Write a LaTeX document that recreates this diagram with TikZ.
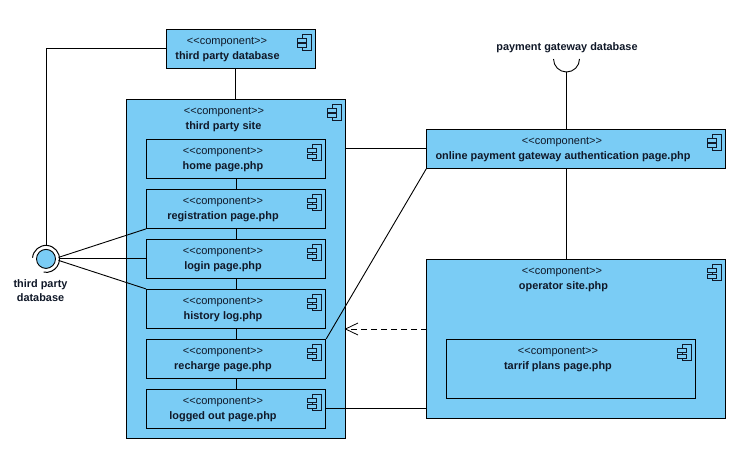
\documentclass[tikz,border=0pt]{standalone}
\usepackage{fontspec}
\setmainfont{Liberation Sans}
\definecolor{compfill}{HTML}{7ACCF5}
\definecolor{inkc}{HTML}{101828}
\tikzset{
 comp/.style={draw=black,fill=compfill,line width=1pt,inner sep=0pt,rectangle},
 ster/.style={font=\fontsize{11}{12}\selectfont,text=inkc,inner sep=0pt,anchor=center},
 cname/.style={font=\fontsize{10.9}{12}\bfseries\selectfont,text=inkc,inner sep=0pt,anchor=center},
 wire/.style={draw=black,line width=0.9pt},
 icon/.style={draw=inkc,line width=0.8pt,fill=compfill},
 freelab/.style={font=\fontsize{10.9}{14.5}\bfseries\selectfont,text=inkc,inner sep=0pt,align=center},
}
% #1 name, #2 x0, #3 y0, #4 x1, #5 y1, #6 label, #7 label centre x, #8 stereotype centre x
\newcommand{\compbox}[8]{%
 \pgfmathsetmacro{\cw}{#4-#2}\pgfmathsetmacro{\ch}{#5-#3}%
 \pgfmathsetmacro{\cmx}{(#2+#4)/2}\pgfmathsetmacro{\cmy}{(#3+#5)/2}%
 \node[comp,minimum width=\cw pt,minimum height=\ch pt] (#1) at (\cmx,\cmy) {};
 \node[ster] (#1s) at (#8,#3+12.5) {{<}{<}component{>}{>}};
 \node[cname] (#1n) at (#7,#3+27.3) {#6};
 \draw[icon] (#4-13,#3+5) rectangle (#4-4,#3+21);
 \draw[icon] (#4-18,#3+9) rectangle (#4-9,#3+13);
 \draw[icon] (#4-18,#3+14.5) rectangle (#4-9,#3+18.5);
}
\begin{document}
\begin{tikzpicture}[x=1pt,y=-1pt]
\useasboundingbox (0,0) rectangle (752,476);
\fill[white] (0,0) rectangle (752,476);
\compbox{tpd}{166}{29.4}{315.3}{68.4}{third party database}{227.5}{227}
\compbox{site}{126.7}{99.4}{345}{438.4}{third party site}{223.5}{224}
\compbox{home}{146.5}{139.4}{325.7}{178.4}{home page.php}{223}{223}
\compbox{reg}{146.5}{189.4}{325.7}{228.4}{registration page.php}{223}{223}
\compbox{login}{146.5}{239.4}{325.7}{278.4}{login page.php}{223}{223}
\compbox{hist}{146.5}{289.4}{325.7}{328.4}{history log.php}{223}{223}
\compbox{rech}{146.5}{339.4}{325.7}{378.4}{recharge page.php}{223}{223}
\compbox{logged}{146.5}{389.4}{325.7}{428.4}{logged out page.php}{223}{223}
\compbox{gate}{426.7}{129.4}{725.3}{168.4}{online payment gateway authentication page.php}{563}{562}
\compbox{op}{426.7}{259.4}{725.3}{418.4}{operator site.php}{563.5}{562}
\compbox{tarrif}{446.7}{339.4}{695.3}{398.4}{tarrif plans page.php}{558}{558}
% interface ball
\node[circle,draw=black,fill=compfill,line width=0.9pt,minimum size=19pt,inner sep=0pt] (ball) at (46,258.9) {};
\coordinate (ballN) at (46,245);
\coordinate (ballE) at (59.5,258.9);
\draw[black,line width=1pt] (ball.center) ++(-175:13.5) arc[start angle=-175,end angle=100,radius=13.5];
\node[freelab] (balllab) at (40.5,290.5) {third party\\database};
% socket
\node[freelab] (sock) at (567,48) {payment gateway database};
\coordinate (sockB) at (566.5,72);
\draw[black,line width=0.9pt] (553.5,59) arc[start angle=180,end angle=0,radius=13,y radius=13];
% connectors
\draw[wire] (ballN) |- (tpd.west);
\draw[wire] (site.north |- tpd.south) -- (site.north);
\draw[wire] (home.south) -- (reg.north);
\draw[wire] (reg.south) -- (login.north);
\draw[wire] (login.south) -- (hist.north);
\draw[wire] (hist.south) -- (rech.north);
\draw[wire] (rech.south) -- (logged.north);
\draw[wire] (ballE) ++(-1,-1.5) -- (reg.south west);
\draw[wire] (ballE) -- (login.west);
\draw[wire] (ballE) ++(-1,1.5) -- (hist.north west);
\draw[wire] (gate.west) -- (gate.west -| site.east);
\draw[wire] (rech.north east) -- (gate.south west);
\draw[wire] (logged.east) -- (logged.east -| op.west);
\coordinate (dashS) at (427,329);
\draw[wire,dash pattern=on 6pt off 4pt] (dashS) -- (dashS -| site.east);
\draw[black,line width=0.8pt] (358,323) -- (dashS -| site.east) -- (358,335);
\coordinate (gateX) at (566.5,168);
\draw[wire] (sockB) -- (gateX |- gate.north);
\draw[wire] (gateX) -- (gateX |- op.north);
\end{tikzpicture}
\end{document}
